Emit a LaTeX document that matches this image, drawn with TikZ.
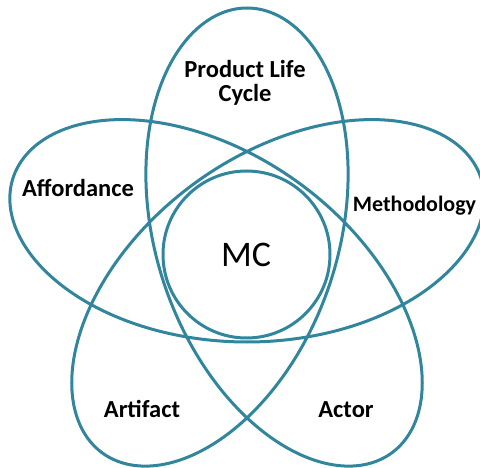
\documentclass[tikz,border=0pt]{standalone}
\usepackage{fontspec}
\setmainfont{Carlito}
\definecolor{petal}{RGB}{49,133,156}
\begin{document}
\begin{tikzpicture}[x=1pt,y=-1pt,
  petalline/.style={draw=petal,line width=3pt,line join=round},
  lbl/.style={anchor=base,inner sep=0pt,font=\bfseries\fontsize{24.5}{22}\selectfont}]
\useasboundingbox (0,0) rectangle (480,468);
\coordinate (ctr) at (247,254);
% one closed star curve with five looped petals
\draw[petalline] plot[domain=0:360,samples=721,variable=\t]
  ({247 + 79*sin(2*\t) - 167*sin(3*\t)},
   {254 - 79*cos(2*\t) - 167*cos(3*\t)}) -- cycle;
\draw[petalline] (246.5,254.5) circle[radius=83.5];
\node[anchor=base,inner sep=0pt,font=\fontsize{36}{36}\selectfont] (mc) at (246,267) {MC};
\node[lbl] (plc) at (245,78) {\setlength\tabcolsep{0pt}\begin{tabular}[t]{c}Product Life\\Cycle\end{tabular}};
\node[lbl] (aff) at (78,197) {Affordance};
\node[lbl,font=\bfseries\fontsize{22}{22}\selectfont] (meth) at (414.5,212) {Methodology};
\node[lbl] (art) at (142,417) {Artifact};
\node[lbl] (act) at (346,417) {Actor};
\end{tikzpicture}
\end{document}
